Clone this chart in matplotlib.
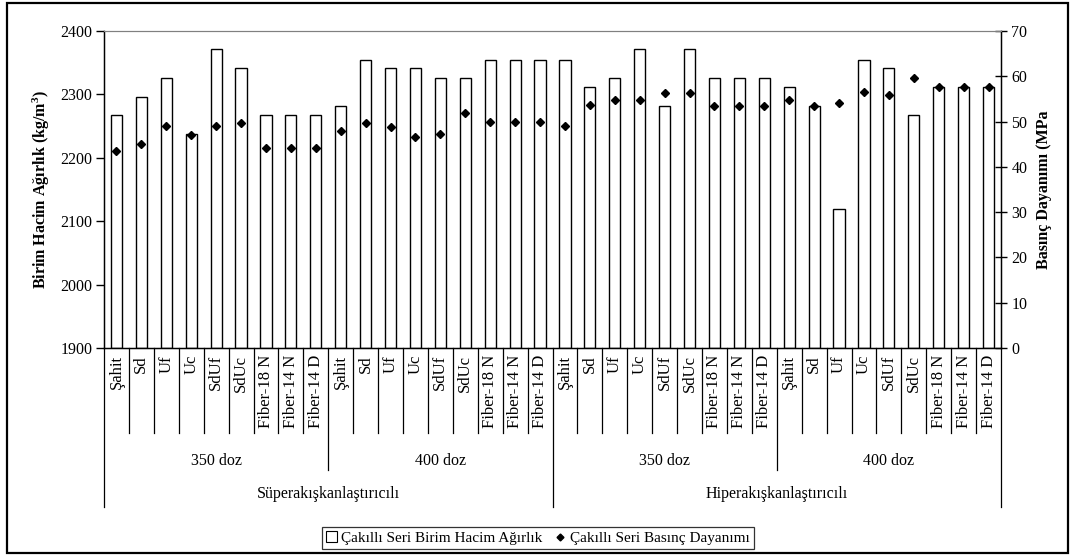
import numpy as np
import matplotlib
matplotlib.use("Agg")
import matplotlib.pyplot as plt
from matplotlib.patches import Patch, Rectangle
from matplotlib.lines import Line2D
import matplotlib.transforms as mtransforms

plt.rcParams['font.family'] = ['Liberation Serif', 'DejaVu Serif']
plt.rcParams['font.size'] = 11.5

# mix names, repeated for each dose / admixture block
mixes = ['Şahit', 'Sd', 'Uf', 'Uc', 'SdUf', 'SdUc', 'Fiber-18 N', 'Fiber-14 N', 'Fiber-14 D']
doses = ['350 doz', '400 doz', '350 doz', '400 doz']
admixtures = ['Süperakışkanlaştırıcılı', 'Hiperakışkanlaştırıcılı']

# unit weight (kg/m3)
unit_weight = [2267, 2296, 2326, 2237, 2372, 2341, 2267, 2267, 2267,
               2281, 2355, 2341, 2341, 2326, 2326, 2355, 2355, 2355,
               2355, 2312, 2326, 2372, 2281, 2372, 2326, 2326, 2326,
               2312, 2281, 2119, 2355, 2341, 2267, 2312, 2312, 2312]

# compressive strength (MPa)
strength = [43.6, 45.0, 49.1, 47.1, 49.1, 49.6, 44.2, 44.2, 44.2,
            47.9, 49.6, 48.9, 46.5, 47.3, 51.9, 49.9, 49.9, 49.9,
            49.1, 53.6, 54.8, 54.8, 56.2, 56.2, 53.4, 53.4, 53.4,
            54.8, 53.4, 54.2, 56.5, 55.9, 59.7, 57.7, 57.7, 57.7]

labels = mixes * len(doses)
x = np.arange(len(labels))

fig = plt.figure(figsize=(10.75, 5.57), dpi=100)
ax = fig.add_axes([104 / 1075, 1 - 348 / 557, 897 / 1075, 317 / 557])

ax.bar(x, np.array(unit_weight) - 1900, bottom=1900, width=0.45,
       color='white', edgecolor='black', linewidth=1.0, zorder=2)
ax.set_ylim(1900, 2400)
ax.set_xlim(-0.5, len(labels) - 0.5)
ax.set_yticks(np.arange(1900, 2401, 100))
ax.tick_params(axis='y', direction='out', length=5.5, width=1.0, pad=3)
ax.set_ylabel('Birim Hacim Ağırlık (kg/m$\\mathregular{^3}$)', fontweight='bold', labelpad=6)

ax.set_xticks(x)
ax.set_xticklabels(labels, rotation=90, va='top', ha='center', fontsize=12)
ax.tick_params(axis='x', length=0, pad=5)

for side in ['left', 'right', 'bottom']:
    ax.spines[side].set_linewidth(1.0)
ax.spines['top'].set_color('#808080')

ax2 = ax.twinx()
ax2.plot(x, strength, linestyle='none', marker='D', markersize=4.5,
         color='black', zorder=3)
ax2.set_ylim(0, 70)
ax2.set_yticks(np.arange(0, 71, 10))
ax2.tick_params(axis='y', direction='inout', length=9, width=1.0, pad=3)
ax2.set_ylabel('Basınç Dayanımı (MPa', fontweight='bold', labelpad=6)
ax2.spines['top'].set_color('#808080')

# separator lines under the category axis
trans = mtransforms.blended_transform_factory(ax.transData, ax.transAxes)
h = 317.0
for b in np.arange(-0.5, len(labels), 1.0):
    k = int(b + 0.5)
    if k % 18 == 0:
        depth = 159
    elif k % 9 == 0:
        depth = 122
    else:
        depth = 85
    ax.plot([b, b], [0, -depth / h], transform=trans, color='black',
            linewidth=0.9, clip_on=False)

for i, d in enumerate(doses):
    ax.text(i * 9 + 4, -113 / h, d, transform=trans, ha='center', va='center')
for i, a in enumerate(admixtures):
    ax.text(i * 18 + 8.5, -146 / h, a, transform=trans, ha='center', va='center')

handles = [Patch(facecolor='white', edgecolor='black', linewidth=0.8),
           Line2D([], [], linestyle='none', marker='D', markersize=3.5, color='black')]
leg = fig.legend(handles, ['Çakıllı Seri Birim Hacim Ağırlık', 'Çakıllı Seri Basınç Dayanımı'],
                 loc='center', bbox_to_anchor=(538 / 1075, 1 - 538 / 557), ncol=2,
                 frameon=True, fancybox=False, edgecolor='black', handlelength=0.7,
                 handletextpad=0.3, columnspacing=0.8, borderpad=0.25,
                 borderaxespad=0.0, fontsize=11)
leg.get_frame().set_linewidth(0.9)

# outer frame around the whole chart
fig.patches.append(Rectangle((7 / 1075, 1 - 553 / 557), 1061 / 1075, 550 / 557,
                             transform=fig.transFigure, fill=False,
                             edgecolor='black', linewidth=1.6))

fig.savefig('out.png', dpi=100)
